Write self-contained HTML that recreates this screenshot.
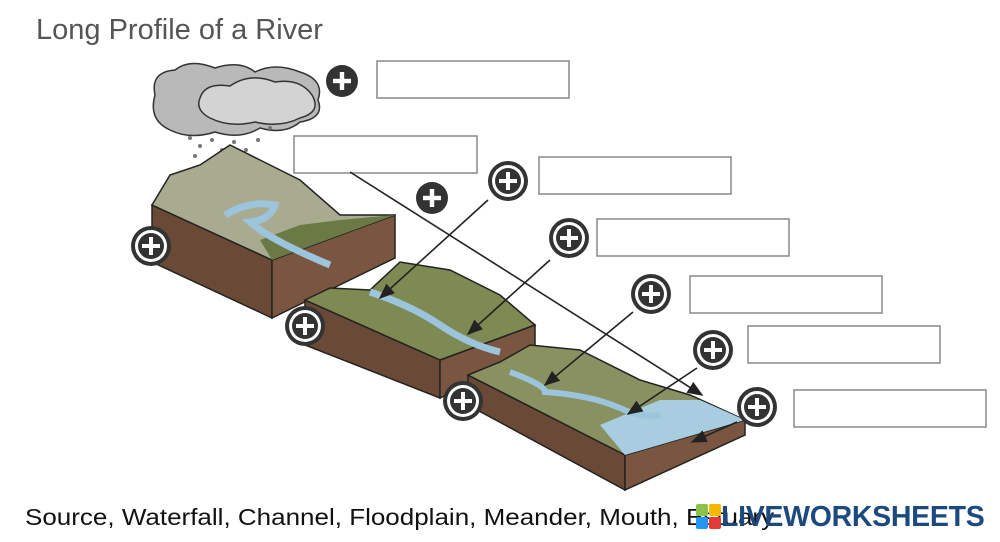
<!DOCTYPE html>
<html><head><meta charset="utf-8"><style>
body{margin:0;width:1000px;height:542px;background:#fff;overflow:hidden;position:relative;font-family:"Liberation Sans",sans-serif}
svg{position:absolute;left:0;top:0}
.t{position:absolute;left:36px;top:14px;font-size:29px;color:#555}
.b{position:absolute;left:25px;top:502px;font-size:26px;color:#111;white-space:nowrap;transform:scaleY(0.9);transform-origin:0 50%}
.lw{position:absolute;left:721px;top:501px;font-size:28.5px;font-weight:bold;color:#1d4a7e;white-space:nowrap;letter-spacing:-0.3px}
</style></head><body>
<div class="t">Long Profile of a River</div>
<svg width="1000" height="542" viewBox="0 0 1000 542">
<defs>
<marker id="a" markerWidth="10" markerHeight="10" refX="9" refY="5" orient="auto"><path d="M0,1 L10,5 L0,9 z" fill="#222"/></marker>
<g id="tg"><circle r="20" fill="#333"/><circle r="16" fill="#fff"/><circle r="13" fill="#333"/><rect x="-9" y="-2" width="18" height="4" fill="#fff"/><rect x="-2" y="-9" width="4" height="18" fill="#fff"/></g>
<g id="pl"><circle r="16" fill="#333"/><rect x="-9" y="-2.2" width="18" height="4.4" fill="#fff"/><rect x="-2.2" y="-9" width="4.4" height="18" fill="#fff"/></g>
</defs>
<g stroke="#333" stroke-width="1.5">
<path d="M155,95 Q150,72 175,70 Q190,58 215,68 Q240,60 255,72 Q275,62 300,72 Q325,80 318,100 Q325,118 300,122 Q285,135 260,128 Q240,140 215,132 Q190,140 170,130 Q148,120 155,95z" fill="#b9b9b9"/>
<path d="M200,98 Q205,82 230,86 Q250,72 275,82 Q300,78 312,95 Q322,112 300,118 Q280,128 255,122 Q230,128 210,118 Q195,110 200,98z" fill="#d3d3d3"/>
</g>
<g fill="#777"><circle cx="190" cy="138" r="2"/><circle cx="200" cy="146" r="2"/><circle cx="212" cy="140" r="2"/><circle cx="222" cy="150" r="2"/><circle cx="234" cy="142" r="2"/><circle cx="246" cy="150" r="2"/><circle cx="258" cy="140" r="2"/><circle cx="270" cy="128" r="2"/><circle cx="195" cy="156" r="2"/><circle cx="230" cy="156" r="2"/></g>
<polygon points="152,205 152,262 272,318 272,260" fill="#6a4a36" stroke="#222" stroke-width="1.5"/>
<polygon points="272,318 395,258 395,215 272,260" fill="#7a5640" stroke="#222" stroke-width="1.5"/>
<polygon points="152,205 170,175 200,165 230,145 260,160 300,180 340,215 395,215 272,260 152,205" fill="#a9ab90" stroke="#222" stroke-width="1.5"/>
<polygon points="260,240 300,225 340,220 395,215 272,260" fill="#6b7a45"/>
<path d="M225,215 Q250,200 275,205 Q270,220 250,222 Q270,240 330,265" fill="none" stroke="#9cc4dc" stroke-width="7"/>
<polygon points="305,300 305,345 440,398 440,360" fill="#6a4a36" stroke="#222" stroke-width="1.5"/>
<polygon points="440,398 535,355 535,325 440,360" fill="#7a5640" stroke="#222" stroke-width="1.5"/>
<polygon points="305,300 330,288 370,290 400,262 450,270 500,295 535,325 440,360" fill="#7d8a52" stroke="#222" stroke-width="1.5"/>
<path d="M370,292 Q410,305 440,325 Q470,345 500,352" fill="none" stroke="#9cc4dc" stroke-width="7"/>
<polygon points="468,375 468,405 625,490 625,455" fill="#6a4a36" stroke="#222" stroke-width="1.5"/>
<polygon points="625,490 745,435 745,420 625,455" fill="#7a5640" stroke="#222" stroke-width="1.5"/>
<polygon points="468,375 500,362 530,345 580,350 640,380 690,395 745,420 625,455" fill="#8a9160" stroke="#222" stroke-width="1.5"/>
<polygon points="600,425 660,400 700,400 745,420 625,455" fill="#a8cce0"/>
<path d="M510,372 Q545,385 545,392 Q590,395 620,408 Q640,418 660,415" fill="none" stroke="#9cc4dc" stroke-width="6"/>
<g fill="#fff" stroke="#888" stroke-width="1.5">
<rect x="377" y="61" width="192" height="37"/><rect x="294" y="136" width="183" height="37"/>
<rect x="539" y="157" width="192" height="37"/><rect x="597" y="219" width="192" height="37"/>
<rect x="690" y="276" width="192" height="37"/><rect x="748" y="326" width="192" height="37"/>
<rect x="794" y="390" width="192" height="37"/></g>
<g stroke="#222" stroke-width="1.6" marker-end="url(#a)">
<line x1="350" y1="172" x2="702" y2="395"/><line x1="488" y1="200" x2="380" y2="298"/>
<line x1="550" y1="260" x2="468" y2="334"/><line x1="633" y1="312" x2="545" y2="385"/>
<line x1="697" y1="368" x2="628" y2="414"/><line x1="737" y1="422" x2="692" y2="442"/>
</g>
<use href="#pl" x="342" y="81"/><use href="#pl" x="432" y="198"/>
<use href="#tg" x="151" y="246"/><use href="#tg" x="508" y="181"/><use href="#tg" x="569" y="238"/>
<use href="#tg" x="651" y="294"/><use href="#tg" x="713" y="350"/><use href="#tg" x="757" y="407"/>
<use href="#tg" x="305" y="326"/><use href="#tg" x="463" y="401"/>
</svg>
<div class="b">Source, Waterfall, Channel, Floodplain, Meander, Mouth, Estuary</div>
<svg width="1000" height="542"><rect x="696" y="504" width="12" height="12" rx="2" fill="#8bc34a"/><rect x="709" y="504" width="12" height="12" rx="2" fill="#f5b800"/><rect x="696" y="517" width="12" height="12" rx="2" fill="#2196f3"/><rect x="709" y="517" width="12" height="12" rx="2" fill="#e53935"/></svg>
<div class="lw">LIVEWORKSHEETS</div>
</body></html>
